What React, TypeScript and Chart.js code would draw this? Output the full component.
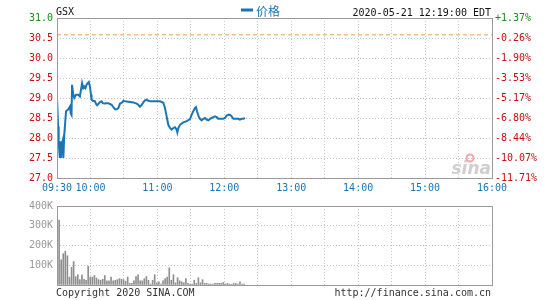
import React, { useEffect, useRef } from "react";
import { Chart, registerables } from "chart.js";
Chart.register(...registerables);

const SYMBOL = "GSX";
const SERIES_NAME = "价格";
const TIMESTAMP = "2020-05-21 12:19:00 EDT";
const COPYRIGHT = "Copyright 2020 SINA.COM";
const SITE = "http://finance.sina.com.cn";
const PREV_CLOSE = 30.58;

const priceMinutes = [
  0, 1, 1.5, 2.5, 3, 3.5, 4.2, 5, 5.7, 6.5, 7.2, 8.1, 10, 11.7, 12.3, 13, 13.5, 14, 14.6, 15.5,
  17, 19, 20.5, 21.5, 22.5, 23.5, 24.5, 25.5, 26.5, 27.5, 28.5, 29.5, 30.5, 31, 32, 34, 35, 36,
  37, 38.5, 40, 41, 42.5, 44.5, 46, 47.5, 49, 50.5, 52, 53.5, 55, 56.5, 58, 59.5, 62.5, 65.4,
  68.4, 71.4, 72.9, 74.4, 75.9, 77.4, 78.9, 80.4, 81.9, 83.4, 86.3, 89.3, 92.3, 93.8, 95.3,
  96.8, 98.3, 99.8, 101.3, 102.8, 104.3, 105.8, 107.3, 107.9, 108.8, 110.3, 113.2, 116.3,
  119.2, 120.7, 122.2, 123.7, 124.6, 125.5, 127, 128.2, 129.7, 131.2, 132.7, 134.2, 135.7,
  137.2, 138.7, 140.2, 141.7, 143.2, 144.6, 146.1, 147.6, 149.1, 150.6, 152.1, 153.6, 155.1,
  156.6, 158.1, 159.6, 162.6, 164, 165.5, 167, 168.5,
];
const priceValues = [
  29.0, 28.29, 27.92, 27.5, 27.92, 27.5, 27.83, 27.92, 27.5, 28.08, 28.33, 28.67, 28.71, 28.79,
  28.62, 28.58, 29.33, 29.33, 29.08, 29.0, 29.08, 29.08, 29.04, 29.21, 29.37, 29.25, 29.29,
  29.25, 29.33, 29.37, 29.4, 29.29, 29.08, 28.96, 28.93, 28.92, 28.85, 28.82, 28.85, 28.9,
  28.92, 28.87, 28.86, 28.87, 28.87, 28.85, 28.83, 28.77, 28.72, 28.72, 28.75, 28.86, 28.88,
  28.93, 28.91, 28.9, 28.89, 28.86, 28.83, 28.78, 28.83, 28.89, 28.94, 28.96, 28.93, 28.92,
  28.92, 28.92, 28.92, 28.9, 28.88, 28.75, 28.54, 28.33, 28.25, 28.21, 28.25, 28.27, 28.21,
  28.14, 28.25, 28.33, 28.39, 28.42, 28.47, 28.58, 28.67, 28.75, 28.77, 28.67, 28.54, 28.48,
  28.44, 28.48, 28.5, 28.46, 28.44, 28.48, 28.5, 28.52, 28.54, 28.52, 28.48, 28.48, 28.48,
  28.48, 28.5, 28.56, 28.58, 28.58, 28.54, 28.48, 28.48, 28.48, 28.46, 28.48, 28.48, 28.5,
];

const leftTickLabels = ["27.0", "27.5", "28.0", "28.5", "29.0", "29.5", "30.0", "30.5", "31.0"];
const rightTickLabels = ["-11.71%", "-10.07%", "-8.44%", "-6.80%", "-5.17%", "-3.53%", "-1.90%", "-0.26%", "+1.37%"];
const timeTickMinutes = [0, 30, 60, 90, 120, 150, 180, 210, 240, 270, 300, 330, 360, 390];
const timeTickLabels = ["09:30", "10:00", "", "11:00", "", "12:00", "", "13:00", "", "14:00", "", "15:00", "", "16:00"];

// volume in thousands, one bar per interval
const VOL_STEP = 1.864;
const volumeValues = [
  95, 329, 127, 159, 171, 148, 40, 90, 119, 42, 52, 27, 52, 29, 24, 95, 40, 40, 48, 35, 27, 24,
  29, 48, 21, 21, 40, 21, 24, 27, 32, 29, 27, 19, 40, 8, 8, 21, 43, 52, 21, 21, 32, 43, 24, 5,
  24, 52, 11, 16, 5, 21, 32, 40, 87, 24, 52, 11, 37, 21, 16, 11, 32, 8, 5, 5, 24, 8, 37, 11, 27,
  8, 8, 5, 5, 5, 8, 8, 8, 8, 13, 5, 8, 5, 3, 8, 8, 5, 16, 5, 5,
];
const volTickLabels = ["", "100K", "200K", "300K", "400K"];

const MONO = "'DejaVu Sans Mono', monospace";
const GREEN = "#1a8a1a";
const RED = "#c41010";
const BLUE = "#1b75b5";
const GRID = "#c4c4c4";
const FRAME = "#9a9a9a";

const framePlugin = {
  id: "frame",
  afterDraw(chart: any) {
    const { ctx, chartArea: a } = chart;
    ctx.save();
    ctx.strokeStyle = FRAME;
    ctx.lineWidth = 1;
    ctx.strokeRect(Math.round(a.left) + 0.5, Math.round(a.top) + 0.5, Math.round(a.right - a.left), Math.round(a.bottom - a.top));
    ctx.restore();
  },
};

const headerPlugin = {
  id: "header",
  afterDraw(chart: any) {
    const { ctx, chartArea: a } = chart;
    ctx.save();
    ctx.font = `10px ${MONO}`;
    ctx.textBaseline = "alphabetic";
    ctx.fillStyle = "#111";
    ctx.textAlign = "left";
    ctx.fillText(SYMBOL, a.left - 1, 15);
    ctx.textAlign = "right";
    ctx.fillText(TIMESTAMP, a.right - 1, 15.5);
    ctx.fillStyle = BLUE;
    ctx.fillRect(241, 8.5, 12, 3);
    ctx.textAlign = "left";
    ctx.font = "12px 'Noto Sans CJK SC'";
    ctx.fillText(SERIES_NAME, 256, 15.5);
    // watermark
    ctx.font = "italic bold 17px 'DejaVu Sans'";
    ctx.fillStyle = "#cfcfcf";
    ctx.textAlign = "right";
    ctx.fillText("sina", a.right - 1, a.bottom - 4);
    ctx.strokeStyle = "#f2a8a8";
    ctx.lineWidth = 2;
    ctx.beginPath();
    ctx.arc(a.right - 22, a.bottom - 20, 3.5, 0, Math.PI * 2);
    ctx.stroke();
    ctx.restore();
  },
};

const footerPlugin = {
  id: "footer",
  afterDraw(chart: any) {
    const { ctx, chartArea: a } = chart;
    ctx.save();
    ctx.font = `10px ${MONO}`;
    ctx.fillStyle = "#333";
    ctx.textBaseline = "alphabetic";
    ctx.textAlign = "left";
    ctx.fillText(COPYRIGHT, a.left - 1, 100);
    ctx.textAlign = "right";
    ctx.fillText(SITE, a.right - 1, 100);
    ctx.restore();
  },
};

export default function App() {
  const priceRef = useRef<HTMLCanvasElement>(null);
  const volRef = useRef<HTMLCanvasElement>(null);

  useEffect(() => {
    document.body.style.margin = "0";
    const font = { family: MONO, size: 10 };
    const gridOpts = { color: GRID, lineWidth: 1, drawTicks: false };
    const borderOpts = { display: false, dash: [1, 2] };

    const priceChart = new Chart(priceRef.current!, {
      type: "line",
      data: {
        datasets: [
          {
            label: "prev",
            data: [
              { x: 0, y: PREV_CLOSE },
              { x: 390, y: PREV_CLOSE },
            ],
            borderColor: "#f0a040",
            borderWidth: 1,
            borderDash: [4, 3],
            pointRadius: 0,
            yAxisID: "y",
          },
          {
            label: SERIES_NAME,
            data: priceMinutes.map((m, i) => ({ x: m, y: priceValues[i] })),
            borderColor: BLUE,
            borderWidth: 2,
            pointRadius: 0,
            tension: 0,
            yAxisID: "y",
          },
        ],
      },
      options: {
        responsive: false,
        animation: false,
        events: [],
        layout: { padding: { top: 18, left: 0, right: 0, bottom: 0 } },
        plugins: { legend: { display: false }, tooltip: { enabled: false } },
        scales: {
          x: {
            type: "linear",
            min: 0,
            max: 390,
            grid: gridOpts,
            border: borderOpts,
            afterFit: (s: any) => {
              s.height = 18;
            },
            ticks: {
              stepSize: 30,
              autoSkip: false,
              maxRotation: 0,
              padding: 4,
              font,
              color: BLUE,
              callback: (v: any) => {
                const i = timeTickMinutes.indexOf(Number(v));
                return i >= 0 ? timeTickLabels[i] : "";
              },
            },
          },
          y: {
            type: "linear",
            position: "left",
            min: 27,
            max: 31,
            grid: gridOpts,
            border: borderOpts,
            afterFit: (s: any) => {
              s.width = 57;
            },
            ticks: {
              stepSize: 0.5,
              padding: 4,
              font,
              color: (c: any) => (c.tick && c.tick.value >= PREV_CLOSE ? GREEN : RED),
              callback: (_v: any, i: number) => leftTickLabels[i],
            },
          },
          y2: {
            type: "linear",
            position: "right",
            min: 27,
            max: 31,
            grid: { display: false, drawTicks: false },
            border: { display: false },
            afterFit: (s: any) => {
              s.width = 53;
            },
            ticks: {
              stepSize: 0.5,
              padding: 3,
              font,
              color: (c: any) => (c.tick && c.tick.value >= PREV_CLOSE ? GREEN : RED),
              callback: (_v: any, i: number) => rightTickLabels[i],
            },
          },
        },
      },
      plugins: [framePlugin, headerPlugin],
    } as any);

    const volChart = new Chart(volRef.current!, {
      type: "bar",
      data: {
        datasets: [
          {
            label: "vol",
            data: volumeValues.map((v, i) => ({ x: i * VOL_STEP, y: v })),
            backgroundColor: "#8f8f8f",
            barThickness: 1,
          },
        ],
      },
      options: {
        responsive: false,
        animation: false,
        events: [],
        layout: { padding: { top: 5, left: 0, right: 53, bottom: 0 } },
        plugins: { legend: { display: false }, tooltip: { enabled: false } },
        scales: {
          x: {
            type: "linear",
            min: 0,
            max: 390,
            offset: false,
            grid: { ...gridOpts, offset: false },
            border: borderOpts,
            afterFit: (s: any) => {
              s.height = 15;
            },
            ticks: { stepSize: 30, display: false },
          },
          y: {
            type: "linear",
            min: 0,
            max: 400,
            grid: gridOpts,
            border: borderOpts,
            afterFit: (s: any) => {
              s.width = 57;
            },
            ticks: {
              stepSize: 100,
              padding: 4,
              font,
              color: "#999",
              callback: (_v: any, i: number) => volTickLabels[i],
            },
          },
        },
      },
      plugins: [framePlugin, footerPlugin],
    } as any);

    return () => {
      priceChart.destroy();
      volChart.destroy();
    };
  }, []);

  return (
    <div style={{ position: "relative", width: 545, height: 300, background: "#fff" }}>
      <canvas ref={priceRef} width={545} height={196} style={{ position: "absolute", left: 0, top: 0, display: "block" }} />
      <canvas ref={volRef} width={545} height={104} style={{ position: "absolute", left: 0, top: 196, display: "block" }} />
    </div>
  );
}
